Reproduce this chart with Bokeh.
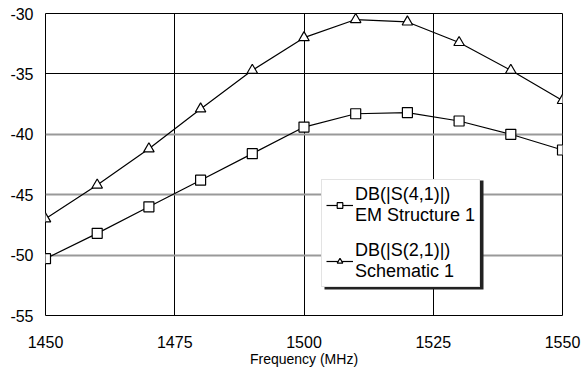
from bokeh.plotting import figure
from bokeh.models import ColumnDataSource, FixedTicker, Grid, Legend, PrintfTickFormatter, BoxAnnotation
from bokeh.embed import file_html
from bokeh.resources import INLINE

freq = [1450, 1460, 1470, 1480, 1490, 1500, 1510, 1520, 1530, 1540, 1550]
s41_em = [-50.3, -48.2, -46.0, -43.8, -41.6, -39.4, -38.3, -38.2, -38.9, -40.0, -41.3]
s21_sch = [-47.0, -44.2, -41.2, -37.9, -34.7, -32.0, -30.5, -30.7, -32.4, -34.7, -37.2]

x_ticks = [1450, 1475, 1500, 1525, 1550]
y_ticks = [-55, -50, -45, -40, -35, -30]
y_grid_gray = [-40, -45, -50]
y_grid_black = [-35]

label_41 = "DB(|S(4,1)|)\nEM Structure 1"
label_21 = "DB(|S(2,1)|)\nSchematic 1"

src = ColumnDataSource(dict(f=freq, s41=s41_em, s21=s21_sch))

FONT = "Liberation Sans"

p = figure(width=586, height=371, x_range=(1450, 1550), y_range=(-55, -30),
           output_backend="svg", toolbar_location=None,
           min_border_left=45, min_border_right=24, min_border_top=13, min_border_bottom=56)
p.background_fill_color = "white"
p.border_fill_color = "white"
p.outline_line_color = "black"
p.outline_line_width = 1

# grids
p.xgrid.ticker = FixedTicker(ticks=x_ticks)
p.xgrid.grid_line_color = "black"
p.xgrid.grid_line_width = 1
p.ygrid.ticker = FixedTicker(ticks=y_grid_gray)
p.ygrid.grid_line_color = "#999999"
p.ygrid.grid_line_width = 2
g2 = Grid(dimension=1, ticker=FixedTicker(ticks=y_grid_black), grid_line_color="black", grid_line_width=1)
p.add_layout(g2)

# axes
for ax in (p.xaxis[0], p.yaxis[0]):
    ax.axis_line_color = None
    ax.major_tick_line_color = None
    ax.minor_tick_line_color = None
    ax.major_label_text_font = FONT
    ax.major_label_text_font_size = "16px"
    ax.major_label_text_color = "black"
    ax.formatter = PrintfTickFormatter(format="%d")
p.xaxis.ticker = FixedTicker(ticks=x_ticks)
p.yaxis.ticker = FixedTicker(ticks=y_ticks)
p.xaxis.major_label_standoff = 14
p.yaxis.major_label_standoff = 6
p.xaxis.axis_label = "Frequency (MHz)"
p.xaxis.axis_label_text_font = FONT
p.xaxis.axis_label_text_font_size = "14px"
p.xaxis.axis_label_text_font_style = "normal"
p.xaxis.axis_label_text_color = "black"
p.xaxis.axis_label_standoff = 0

# series
l1 = p.line("f", "s41", source=src, line_color="black", line_width=1.2)
m1 = p.scatter("f", "s41", source=src, marker="square", size=10,
               line_color="black", fill_color="white", line_width=1.2)
l2 = p.line("f", "s21", source=src, line_color="black", line_width=1.2)
m2 = p.scatter("f", "s21", source=src, marker="triangle", size=10.5,
               line_color="black", fill_color="white", line_width=1.2)

# legend drop shadow (screen units relative to the plot frame)
shadow = BoxAnnotation(left=279, right=438, bottom=26, top=135,
                       left_units="screen", right_units="screen",
                       bottom_units="screen", top_units="screen",
                       fill_color="#222222", fill_alpha=1, line_color=None)
p.add_layout(shadow)

legend = Legend(items=[(label_41, [l1, m1]), (label_21, [l2, m2])],
                location=(276, 28))
legend.label_text_font = FONT
legend.label_text_font_size = "18px"
legend.label_text_color = "black"
legend.label_standoff = 2
legend.glyph_width = 27
legend.glyph_height = 14
legend.padding = 4
legend.spacing = 14
legend.margin = 0
legend.border_line_color = "#c8c8c8"
legend.border_line_width = 1
legend.background_fill_color = "white"
legend.background_fill_alpha = 1
p.add_layout(legend)

open("out.html", "w").write(file_html(p, INLINE))
